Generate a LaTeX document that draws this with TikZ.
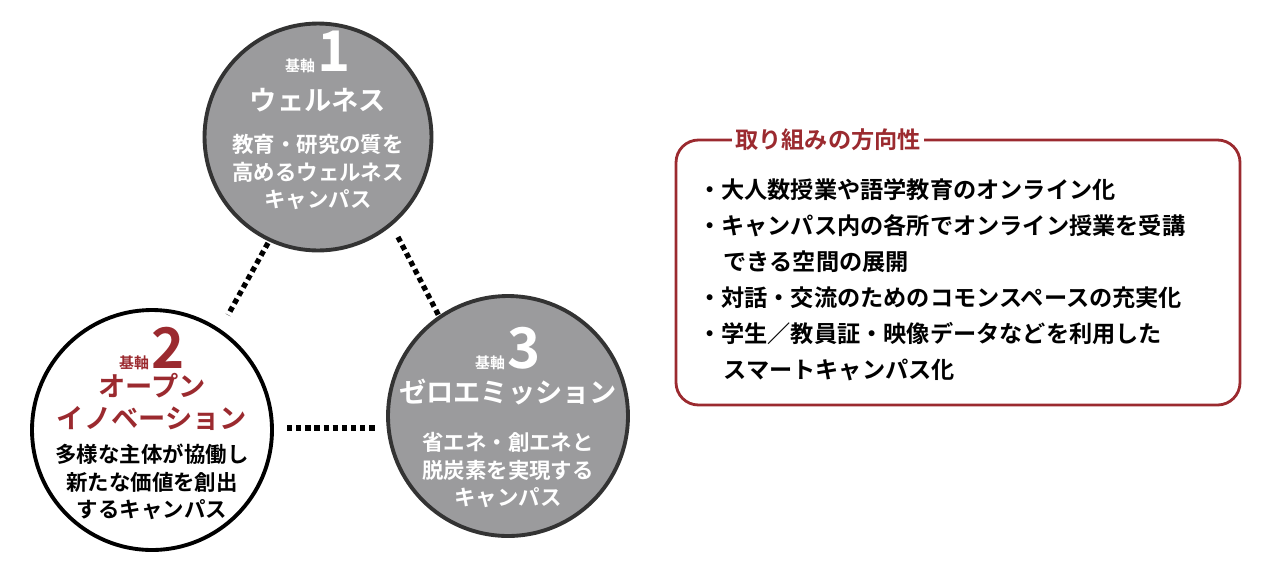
\documentclass[tikz,border=0pt]{standalone}
\usepackage{fontspec}
\setmainfont{Noto Sans CJK JP}[BoldFont={Noto Sans CJK JP Bold}]
\definecolor{dred}{HTML}{9B2A2F}
\definecolor{cgray}{HTML}{9B9B9D}
\definecolor{cline}{HTML}{333333}
\begin{document}
\begin{tikzpicture}[x=0.02cm,y=-0.02cm,
  gcirc/.style={circle,draw=cline,line width=2.2pt,fill=cgray,minimum size=#1,inner sep=0pt},
  wcirc/.style={circle,draw=black,line width=2.2pt,fill=white,minimum size=#1,inner sep=0pt},
  dotl/.style={line width=3pt,dash pattern=on 3pt off 2.2pt},
  txt/.style={align=center,font=\bfseries\fontsize{12.2}{15.5}\selectfont}]
\useasboundingbox (0,0) rectangle (1280,562);
\node[gcirc=4.54cm] (c1) at (318,137) {};
\node[wcirc=4.8cm] (c2) at (152,430) {};
\node[gcirc=4.8cm] (c3) at (508,416) {};
\coordinate (a1) at (268,243); \coordinate (a2) at (228,315);
\coordinate (b1) at (398,237); \coordinate (b2) at (440,318);
\coordinate (d1) at (287,428); \coordinate (d2) at (378,428);
\draw[dotl] (a1) -- (a2);
\draw[dotl] (b1) -- (b2);
\draw[dotl] (d1) -- (d2);
% circle 1
\node[white,font=\bfseries] (k1) at (318,52) {\fontsize{8.5}{8}\selectfont 基軸\,\fontsize{32}{30}\selectfont 1};
\node[white,font=\bfseries\fontsize{15.5}{16}\selectfont] (t1) at (318,100) {ウェルネス};
\node[white,txt] (b1t) at (318,172) {教育・研究の質を\\高めるウェルネス\\キャンパス};
% circle 2
\node[dred,font=\bfseries] (k2) at (152,348) {\fontsize{8.5}{8}\selectfont 基軸\,\fontsize{32}{30}\selectfont 2};
\node[dred,align=center,font=\bfseries\fontsize{15.5}{18}\selectfont] (t2) at (152,402) {オープン\\イノベーション};
\node[black,txt] (b2t) at (152,482) {多様な主体が協働し\\新たな価値を創出\\するキャンパス};
% circle 3
\node[white,font=\bfseries] (k3) at (508,348) {\fontsize{8.5}{8}\selectfont 基軸\,\fontsize{32}{30}\selectfont 3};
\node[white,font=\bfseries\fontsize{15.5}{16}\selectfont] (t3) at (508,392) {ゼロエミッション};
\node[white,txt] (b3t) at (508,470) {省エネ・創エネと\\脱炭素を実現する\\キャンパス};
% box
\draw[dred,line width=1.6pt,rounded corners=0.45cm] (676,140) rectangle (1240,405);
\node[fill=white,text=dred,inner xsep=2pt,font=\bfseries\fontsize{13.2}{13}\selectfont] (bt) at (828,140) {取り組みの方向性};
\node[anchor=north west,align=left,font=\bfseries\fontsize{13.2}{20.5}\selectfont] (lst) at (692,172)
{・大人数授業や語学教育のオンライン化\\
・キャンパス内の各所でオンライン授業を受講\\
\hspace{1.1em}できる空間の展開\\
・対話・交流のためのコモンスペースの充実化\\
・学生／教員証・映像データなどを利用した\\
\hspace{1.1em}スマートキャンパス化};
\end{tikzpicture}
\end{document}
